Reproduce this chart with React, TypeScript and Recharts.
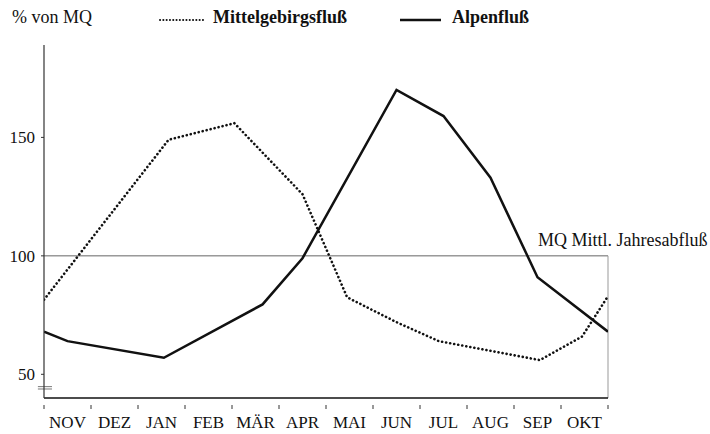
import { LineChart, Line, XAxis, YAxis, ReferenceLine } from 'recharts';

const months = ['NOV', 'DEZ', 'JAN', 'FEB', 'MÄR', 'APR', 'MAI', 'JUN', 'JUL', 'AUG', 'SEP', 'OKT'];
const monthBounds = [0, 1, 2, 3, 4, 5, 6, 7, 8, 9, 10, 11, 12];
const yTicks = [50, 100, 150];

// Alpenfluß (solid), x in months from start of November
const alpenX = [0, 0.5, 2.55, 4.65, 5.5, 7.5, 8.5, 9.5, 10.5, 12];
const alpenY = [68, 64, 57, 79.5, 99, 170, 159, 133, 91, 68];

// Mittelgebirgsfluß (dotted)
const mittelX = [0, 2.65, 4.05, 5.5, 6.45, 7.5, 8.4, 10.55, 11.45, 12];
const mittelY = [81.5, 149, 156, 126, 82.5, 72, 64, 56, 66, 83];

const alpenData = alpenX.map((x, i) => ({ x, v: alpenY[i] }));
const mittelData = mittelX.map((x, i) => ({ x, v: mittelY[i] }));
const axisData = monthBounds.map((x) => ({ x }));

const font = '"Liberation Serif", "Times New Roman", serif';
const plotWidth = 564;
const halfMonth = plotWidth / 12 / 2;

function MonthTick(props: any) {
  const { x, y, payload } = props;
  const idx = Math.round(payload.value);
  return (
    <g>
      <line x1={x} y1={y - 1} x2={x} y2={y + 3} stroke="#333" strokeWidth={1} />
      {idx < months.length && (
        <text
          x={x + halfMonth}
          y={y + 22}
          textAnchor="middle"
          fontFamily={font}
          fontSize={17}
          fill="#111"
        >
          {months[idx]}
        </text>
      )}
    </g>
  );
}

function MqLabel(props: any) {
  const { viewBox } = props;
  return (
    <text
      x={viewBox.x + viewBox.width - 70}
      y={viewBox.y - 10}
      fontFamily={font}
      fontSize={18}
      fill="#111"
    >
      MQ Mittl. Jahresabfluß
    </text>
  );
}

export default function App() {
  return (
    <div style={{ position: 'absolute', left: 0, top: 0, width: 710, height: 434, background: '#fff', fontFamily: font }}>
      <div style={{ position: 'absolute', left: 12, top: 7, fontSize: 18, color: '#111' }}>% von MQ</div>
      <div style={{ position: 'absolute', left: 158, top: 7, display: 'flex', alignItems: 'center', fontSize: 18, fontWeight: 'bold', color: '#111' }}>
        <svg width={46} height={10} style={{ marginRight: 9 }}>
          <line x1={2} y1={7} x2={45} y2={7} stroke="#111" strokeWidth={2} strokeLinecap="round" strokeDasharray="0.1 3.2" />
        </svg>
        Mittelgebirgsfluß
      </div>
      <div style={{ position: 'absolute', left: 400, top: 7, display: 'flex', alignItems: 'center', fontSize: 18, fontWeight: 'bold', color: '#111' }}>
        <svg width={42} height={10} style={{ marginRight: 10 }}>
          <line x1={0} y1={7} x2={41} y2={7} stroke="#111" strokeWidth={2.5} />
        </svg>
        Alpenfluß
      </div>
      <LineChart width={710} height={434} data={axisData} margin={{ top: 45, right: 102, left: 0, bottom: 0 }}>
        <XAxis
          type="number"
          dataKey="x"
          domain={[0, 12]}
          ticks={monthBounds}
          interval={0}
          height={36}
          tickLine={false}
          tick={<MonthTick />}
          axisLine={{ stroke: '#111', strokeWidth: 1.5 }}
          allowDataOverflow
        />
        <YAxis
          type="number"
          domain={[40, 189]}
          ticks={yTicks}
          width={44}
          tickSize={3}
          tickMargin={6}
          axisLine={{ stroke: '#333', strokeWidth: 1.2 }}
          tickLine={{ stroke: '#333' }}
          tick={{ fontFamily: font, fontSize: 17, fill: '#111' }}
          allowDataOverflow
        />
        <ReferenceLine y={100} stroke="#666" strokeWidth={1} label={<MqLabel />} />
        <ReferenceLine
          segment={[{ x: 12, y: 40 }, { x: 12, y: 100 }]}
          stroke="#999"
          strokeWidth={1}
        />
        <ReferenceLine
          segment={[{ x: -0.13, y: 44.8 }, { x: 0.17, y: 44.8 }]}
          stroke="#777"
          strokeWidth={1}
          ifOverflow="visible"
        />
        <ReferenceLine
          segment={[{ x: -0.13, y: 43.8 }, { x: 0.17, y: 43.8 }]}
          stroke="#777"
          strokeWidth={1}
          ifOverflow="visible"
        />
        <Line
          data={mittelData}
          dataKey="v"
          type="linear"
          stroke="#111"
          strokeWidth={2.6}
          strokeLinecap="round"
          strokeDasharray="0.1 4"
          dot={false}
          isAnimationActive={false}
        />
        <Line
          data={alpenData}
          dataKey="v"
          type="linear"
          stroke="#111"
          strokeWidth={2.5}
          dot={false}
          isAnimationActive={false}
        />
      </LineChart>
    </div>
  );
}
